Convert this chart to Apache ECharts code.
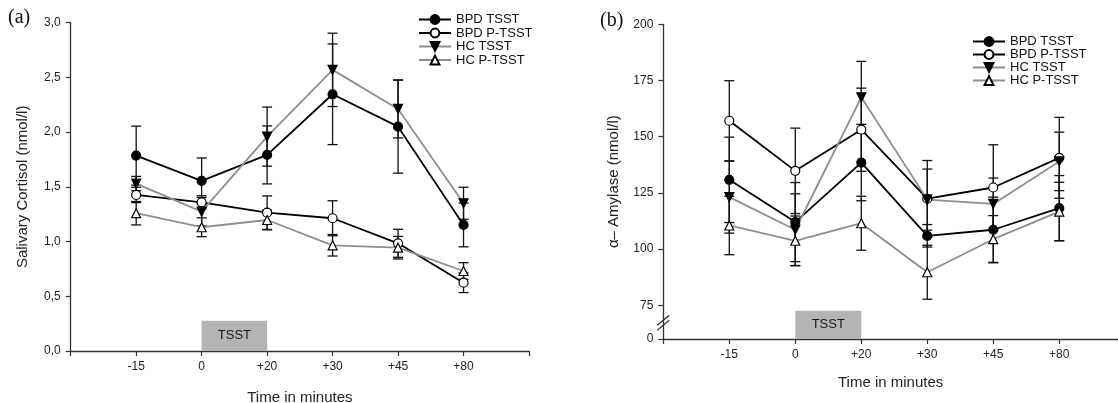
<!DOCTYPE html>
<html><head><meta charset="utf-8">
<script src="https://cdn.jsdelivr.net/npm/echarts@6/dist/echarts.min.js"></script>
<style>html,body{margin:0;padding:0;background:#fff}#c{width:1118px;height:403px}</style>
</head><body><div id="c"></div>
<script>
// ---------- data ----------
const categories = ['-15', '0', '+20', '+30', '+45', '+80'];
const seriesNames = ['BPD TSST', 'BPD P-TSST', 'HC TSST', 'HC P-TSST'];

// (a) salivary cortisol (nmol/l): means and error (±)
const cortBpdTsst     = [1.785, 1.554, 1.792, 2.346, 2.050, 1.152];
const cortBpdTsstErr  = [0.27, 0.21, 0.265, 0.46, 0.425, 0.20];
const cortBpdPtsst    = [1.426, 1.359, 1.264, 1.213, 0.984, 0.624];
const cortBpdPtsstErr = [0.07, 0.06, 0.153, 0.16, 0.128, 0.09];
const cortHcTsst      = [1.53, 1.273, 1.959, 2.569, 2.212, 1.350];
const cortHcTsstErr   = [0.065, 0.13, 0.27, 0.335, 0.265, 0.146];
const cortHcPtsst     = [1.259, 1.131, 1.197, 0.966, 0.944, 0.731];
const cortHcPtsstErr  = [0.107, 0.086, 0.09, 0.098, 0.103, 0.076];

// (b) alpha-amylase: means and error (±)
const amyBpdTsst     = [130.8, 112.0, 138.5, 105.9, 108.6, 118.2];
const amyBpdTsstErr  = [19, 17.6, 17, 5, 14.5, 14.5];
const amyBpdPtsst    = [157.1, 134.8, 153.1, 122.4, 127.4, 140.6];
const amyBpdPtsstErr = [17.8, 19, 18.5, 17, 19, 18];
const amyHcTsst      = [123.1, 108.6, 167.5, 122.0, 120.1, 139.0];
const amyHcTsstErr   = [16, 16, 16, 13.6, 11.5, 13];
const amyHcPtsst     = [110.5, 103.7, 111.5, 89.7, 104.4, 116.7];
const amyHcPtsstErr  = [13, 11, 12, 12, 10.5, 13];

// axis ticks
const cortTicks = [0, 0.5, 1.0, 1.5, 2.0, 2.5, 3.0];
const amyTicks = [75, 100, 125, 150, 175, 200];
const amyBreakLabel = '0';      // label shown below the axis break
const amyAxisFloor = 60;        // value position used for the "0" below the break
const tsstWindow = ['0', '+20'];
const tsstTopCort = 0.277;
const tsstTopAmy = 72.6;

// ---------- chart ----------
const FONT = '"Liberation Sans", Arial, sans-serif';
const chart = echarts.init(document.getElementById('c'));

const sty = {
  'BPD TSST':   {line: '#000', symbol: 'circle', fill: '#000', rot: 0},
  'BPD P-TSST': {line: '#000', symbol: 'circle', fill: '#fff', rot: 0},
  'HC TSST':    {line: '#8e8e8e', symbol: 'triangle', fill: '#000', rot: 180},
  'HC P-TSST':  {line: '#8e8e8e', symbol: 'triangle', fill: '#fff', rot: 0}
};

function pts(a) { return a.map((v, i) => [i, v]); }
function errs(a, e) { return a.map((v, i) => [i, v - e[i], v + e[i]]); }

function errRender(params, api) {
  const x = api.value(0), lo = api.value(1), hi = api.value(2);
  const a = api.coord([x, hi]), b = api.coord([x, lo]);
  const w = 5;
  const style = {stroke: '#111', lineWidth: 1.3};
  return {type: 'group', children: [
    {type: 'line', shape: {x1: a[0], y1: a[1], x2: b[0], y2: b[1]}, style},
    {type: 'line', shape: {x1: a[0] - w, y1: a[1], x2: a[0] + w, y2: a[1]}, style},
    {type: 'line', shape: {x1: b[0] - w, y1: b[1], x2: b[0] + w, y2: b[1]}, style}
  ]};
}

const panels = [
  {idx: 0, data: [cortBpdTsst, cortBpdPtsst, cortHcTsst, cortHcPtsst],
   err: [cortBpdTsstErr, cortBpdPtsstErr, cortHcTsstErr, cortHcPtsstErr],
   box: [[{xAxis: categories.indexOf(tsstWindow[0]), yAxis: 0}, {xAxis: categories.indexOf(tsstWindow[1]), yAxis: tsstTopCort}]]},
  {idx: 1, data: [amyBpdTsst, amyBpdPtsst, amyHcTsst, amyHcPtsst],
   err: [amyBpdTsstErr, amyBpdPtsstErr, amyHcTsstErr, amyHcPtsstErr],
   box: [[{xAxis: categories.indexOf(tsstWindow[0]), yAxis: amyAxisFloor}, {xAxis: categories.indexOf(tsstWindow[1]), yAxis: tsstTopAmy}]]}
];

const series = [];
panels.forEach(p => {
  series.push({
    type: 'line', xAxisIndex: p.idx, yAxisIndex: p.idx, data: [], silent: true, z: 1,
    markArea: {silent: true, itemStyle: {color: '#b4b4b4', opacity: 1},
      label: {show: true, position: 'inside', formatter: 'TSST', color: '#1a1a1a', fontSize: 13, fontFamily: FONT},
      data: p.box}
  });
  seriesNames.forEach((n, k) => {
    series.push({
      type: 'custom', xAxisIndex: p.idx, yAxisIndex: p.idx, renderItem: errRender,
      data: errs(p.data[k], p.err[k]), encode: {x: 0, y: [1, 2]}, z: 2, silent: true
    });
  });
  seriesNames.forEach((n, k) => {
    const s = sty[n];
    series.push({
      name: n, type: 'line', xAxisIndex: p.idx, yAxisIndex: p.idx, data: pts(p.data[k]),
      symbol: s.symbol, symbolSize: 9, symbolRotate: s.rot, showAllSymbol: true,
      lineStyle: {color: s.line, width: 1.8},
      itemStyle: {color: s.fill, borderColor: '#000', borderWidth: 1.2},
      emphasis: {disabled: true}, z: 3, animation: false
    });
  });
});

const axisLine = {show: true, onZero: false, lineStyle: {color: '#333', width: 1.3}};
const axisTick = {show: true, inside: false, length: 5, lineStyle: {color: '#333', width: 1.2}};
const labelStyle = {color: '#222', fontSize: 12, fontFamily: FONT};

function xAxis(gi, max, gap) {
  return {
    type: 'value', gridIndex: gi, min: -1, max: max, interval: 1,
    axisLine, axisTick, splitLine: {show: false},
    axisLabel: Object.assign({margin: 10, showMaxLabel: true, formatter: v => (Number.isInteger(v) && v >= 0 && v < categories.length) ? categories[v] : ''}, labelStyle),
    name: 'Time in minutes', nameLocation: 'middle', nameGap: gap,
    nameTextStyle: {color: '#222', fontSize: 15, fontFamily: FONT}
  };
}

const legendBase = {
  orient: 'vertical', data: seriesNames, itemWidth: 32, itemHeight: 11, itemGap: 0.5,
  textStyle: {color: '#111', fontSize: 13, fontFamily: FONT, lineHeight: 13},
  selectedMode: false, padding: 0
};

chart.setOption({
  animation: false,
  backgroundColor: '#fff',
  grid: [
    {left: 70.7, top: 22.7, width: 458.3, height: 328.3, outerBoundsMode: 'none'},
    {left: 663.3, top: 24.3, width: 454.7, height: 314.7, outerBoundsMode: 'none'}
  ],
  xAxis: [xAxis(0, 6, 39), xAxis(1, 5.89, 36)],
  yAxis: [
    {type: 'value', gridIndex: 0, min: 0, max: 3, interval: 0.5, axisLine, axisTick, splitLine: {show: false},
     axisLabel: Object.assign({margin: 10, customValues: cortTicks, formatter: v => v.toFixed(1).replace('.', ',')}, labelStyle),
     name: 'Salivary Cortisol (nmol/l)', nameLocation: 'middle', nameGap: 40,
     nameTextStyle: {color: '#222', fontSize: 15, fontFamily: FONT}},
    {type: 'value', gridIndex: 1, min: amyAxisFloor, max: 200, axisLine,
     axisTick: Object.assign({customValues: [amyAxisFloor].concat(amyTicks)}, axisTick), splitLine: {show: false},
     axisLabel: Object.assign({margin: 10, customValues: [amyAxisFloor].concat(amyTicks), formatter: v => v === amyAxisFloor ? amyBreakLabel : String(v)}, labelStyle),
     name: 'α– Amylase (nmol/l)', nameLocation: 'middle', nameGap: 42,
     nameTextStyle: {color: '#222', fontSize: 15, fontFamily: FONT}}
  ],
  legend: [
    Object.assign({}, legendBase, {left: 418, top: 13}),
    Object.assign({}, legendBase, {left: 972, top: 35, itemGap: 0})
  ],
  series: series
});

// panel letters and axis-break marks
const bp = chart.convertToPixel({xAxisIndex: 1, yAxisIndex: 1}, [-1, (amyAxisFloor + amyTicks[0]) / 2]);
const bx = bp[0], by = bp[1];
chart.setOption({
  graphic: [
    {type: 'text', left: 8, top: 8, style: {text: '(a)', font: '20px "Liberation Serif", "Times New Roman", serif', fill: '#111'}},
    {type: 'text', left: 600, top: 11, style: {text: '(b)', font: '20px "Liberation Serif", "Times New Roman", serif', fill: '#111'}},
    {type: 'line', shape: {x1: bx - 6, y1: by + 3, x2: bx + 6, y2: by - 7}, style: {stroke: '#333', lineWidth: 1.3}},
    {type: 'line', shape: {x1: bx - 6, y1: by + 8, x2: bx + 6, y2: by - 2}, style: {stroke: '#333', lineWidth: 1.3}}
  ]
});
</script></body></html>
